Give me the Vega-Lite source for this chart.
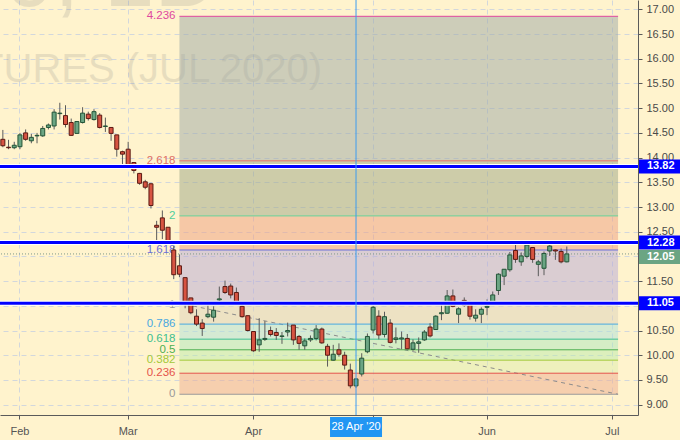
{
  "$schema": "https://vega.github.io/schema/vega-lite/v6.json",
  "width": 638,
  "height": 415,
  "autosize": "none",
  "padding": {"left": 0, "top": 0, "right": 42, "bottom": 25},
  "background": "#fff3cd",
  "config": {"view": {"stroke": null}, "font": "Liberation Sans"},
  "datasets": {
    "candles": [
      {"d":"2020-01-29","o":14.37,"h":14.56,"l":14.21,"c":14.24},
      {"d":"2020-01-30","o":14.21,"h":14.36,"l":14.17,"c":14.20},
      {"d":"2020-01-31","o":14.20,"h":14.32,"l":14.17,"c":14.25},
      {"d":"2020-02-03","o":14.22,"h":14.50,"l":14.17,"c":14.46},
      {"d":"2020-02-04","o":14.50,"h":14.57,"l":14.34,"c":14.37},
      {"d":"2020-02-05","o":14.34,"h":14.48,"l":14.29,"c":14.41},
      {"d":"2020-02-06","o":14.44,"h":14.50,"l":14.29,"c":14.45},
      {"d":"2020-02-07","o":14.44,"h":14.64,"l":14.42,"c":14.59},
      {"d":"2020-02-10","o":14.61,"h":14.69,"l":14.57,"c":14.66},
      {"d":"2020-02-11","o":14.64,"h":14.98,"l":14.57,"c":14.92},
      {"d":"2020-02-12","o":14.89,"h":15.11,"l":14.77,"c":14.90},
      {"d":"2020-02-13","o":14.85,"h":15.06,"l":14.61,"c":14.67},
      {"d":"2020-02-14","o":14.71,"h":14.79,"l":14.44,"c":14.45},
      {"d":"2020-02-18","o":14.49,"h":14.74,"l":14.48,"c":14.73},
      {"d":"2020-02-19","o":14.71,"h":15.02,"l":14.69,"c":14.90},
      {"d":"2020-02-20","o":14.88,"h":14.93,"l":14.75,"c":14.79},
      {"d":"2020-02-21","o":14.77,"h":14.98,"l":14.75,"c":14.93},
      {"d":"2020-02-24","o":14.86,"h":14.90,"l":14.59,"c":14.61},
      {"d":"2020-02-25","o":14.63,"h":14.81,"l":14.52,"c":14.64},
      {"d":"2020-02-26","o":14.61,"h":14.61,"l":14.34,"c":14.49},
      {"d":"2020-02-27","o":14.46,"h":14.46,"l":14.02,"c":14.17},
      {"d":"2020-02-28","o":14.12,"h":14.14,"l":13.85,"c":14.07},
      {"d":"2020-03-02","o":14.17,"h":14.32,"l":13.82,"c":13.83},
      {"d":"2020-03-03","o":13.90,"h":13.90,"l":13.68,"c":13.74},
      {"d":"2020-03-04","o":13.68,"h":13.69,"l":13.45,"c":13.48},
      {"d":"2020-03-05","o":13.51,"h":13.55,"l":13.36,"c":13.40},
      {"d":"2020-03-06","o":13.47,"h":13.49,"l":12.97,"c":13.03},
      {"d":"2020-03-09","o":12.63,"h":12.72,"l":12.33,"c":12.59},
      {"d":"2020-03-10","o":12.78,"h":12.93,"l":12.35,"c":12.53},
      {"d":"2020-03-11","o":12.59,"h":12.59,"l":12.23,"c":12.29},
      {"d":"2020-03-12","o":12.13,"h":12.21,"l":11.54,"c":11.63},
      {"d":"2020-03-13","o":11.81,"h":12.04,"l":11.58,"c":11.64},
      {"d":"2020-03-16","o":11.57,"h":11.57,"l":10.95,"c":11.05},
      {"d":"2020-03-17","o":11.16,"h":11.16,"l":10.83,"c":10.86},
      {"d":"2020-03-18","o":10.79,"h":10.93,"l":10.59,"c":10.63},
      {"d":"2020-03-19","o":10.65,"h":10.73,"l":10.39,"c":10.54},
      {"d":"2020-03-20","o":10.78,"h":11.10,"l":10.75,"c":10.83},
      {"d":"2020-03-23","o":10.77,"h":10.99,"l":10.68,"c":10.91},
      {"d":"2020-03-24","o":11.12,"h":11.39,"l":11.10,"c":11.14},
      {"d":"2020-03-25","o":11.39,"h":11.51,"l":11.24,"c":11.27},
      {"d":"2020-03-26","o":11.40,"h":11.45,"l":11.15,"c":11.22},
      {"d":"2020-03-27","o":11.27,"h":11.37,"l":11.04,"c":11.06},
      {"d":"2020-03-30","o":10.99,"h":11.06,"l":10.76,"c":10.78},
      {"d":"2020-03-31","o":10.80,"h":10.80,"l":10.48,"c":10.50},
      {"d":"2020-04-01","o":10.48,"h":10.48,"l":10.07,"c":10.09},
      {"d":"2020-04-02","o":10.21,"h":10.75,"l":10.07,"c":10.31},
      {"d":"2020-04-03","o":10.32,"h":10.69,"l":10.29,"c":10.34},
      {"d":"2020-04-06","o":10.50,"h":10.58,"l":10.38,"c":10.42},
      {"d":"2020-04-07","o":10.46,"h":10.55,"l":10.31,"c":10.40},
      {"d":"2020-04-08","o":10.38,"h":10.47,"l":10.23,"c":10.39},
      {"d":"2020-04-09","o":10.47,"h":10.66,"l":10.38,"c":10.50},
      {"d":"2020-04-13","o":10.61,"h":10.61,"l":10.21,"c":10.31},
      {"d":"2020-04-14","o":10.38,"h":10.41,"l":10.11,"c":10.24},
      {"d":"2020-04-15","o":10.19,"h":10.34,"l":10.11,"c":10.29},
      {"d":"2020-04-16","o":10.31,"h":10.40,"l":10.27,"c":10.34},
      {"d":"2020-04-17","o":10.34,"h":10.61,"l":10.30,"c":10.53},
      {"d":"2020-04-20","o":10.53,"h":10.56,"l":10.23,"c":10.25},
      {"d":"2020-04-21","o":10.18,"h":10.23,"l":9.77,"c":10.00},
      {"d":"2020-04-22","o":9.90,"h":10.21,"l":9.89,"c":10.02},
      {"d":"2020-04-23","o":10.11,"h":10.24,"l":9.97,"c":10.02},
      {"d":"2020-04-24","o":10.00,"h":10.07,"l":9.71,"c":9.80},
      {"d":"2020-04-27","o":9.70,"h":9.83,"l":9.33,"c":9.38},
      {"d":"2020-04-28","o":9.38,"h":9.53,"l":9.34,"c":9.52},
      {"d":"2020-04-29","o":9.62,"h":10.04,"l":9.57,"c":9.94},
      {"d":"2020-04-30","o":10.07,"h":10.44,"l":10.04,"c":10.38},
      {"d":"2020-05-01","o":10.51,"h":11.00,"l":10.44,"c":10.97},
      {"d":"2020-05-04","o":10.79,"h":10.91,"l":10.32,"c":10.41},
      {"d":"2020-05-05","o":10.42,"h":10.88,"l":10.36,"c":10.78},
      {"d":"2020-05-06","o":10.65,"h":10.73,"l":10.24,"c":10.26},
      {"d":"2020-05-07","o":10.32,"h":10.56,"l":10.24,"c":10.35},
      {"d":"2020-05-08","o":10.33,"h":10.48,"l":10.12,"c":10.35},
      {"d":"2020-05-11","o":10.34,"h":10.43,"l":10.12,"c":10.13},
      {"d":"2020-05-12","o":10.12,"h":10.32,"l":10.09,"c":10.25},
      {"d":"2020-05-13","o":10.24,"h":10.36,"l":10.05,"c":10.27},
      {"d":"2020-05-14","o":10.31,"h":10.51,"l":10.29,"c":10.47},
      {"d":"2020-05-15","o":10.57,"h":10.65,"l":10.36,"c":10.39},
      {"d":"2020-05-18","o":10.52,"h":10.81,"l":10.51,"c":10.79},
      {"d":"2020-05-19","o":10.84,"h":11.03,"l":10.71,"c":10.86},
      {"d":"2020-05-20","o":10.85,"h":11.32,"l":10.84,"c":11.20},
      {"d":"2020-05-21","o":11.20,"h":11.33,"l":10.97,"c":10.99},
      {"d":"2020-05-22","o":10.83,"h":10.97,"l":10.65,"c":10.94},
      {"d":"2020-05-26","o":11.11,"h":11.17,"l":10.98,"c":11.01},
      {"d":"2020-05-27","o":11.02,"h":11.10,"l":10.72,"c":10.79},
      {"d":"2020-05-28","o":10.75,"h":10.93,"l":10.68,"c":10.81},
      {"d":"2020-05-29","o":10.83,"h":10.97,"l":10.65,"c":10.93},
      {"d":"2020-06-01","o":10.97,"h":11.13,"l":10.81,"c":10.99},
      {"d":"2020-06-02","o":11.05,"h":11.29,"l":11.03,"c":11.22},
      {"d":"2020-06-03","o":11.31,"h":11.66,"l":11.22,"c":11.64},
      {"d":"2020-06-04","o":11.60,"h":11.74,"l":11.42,"c":11.74},
      {"d":"2020-06-05","o":11.73,"h":12.09,"l":11.69,"c":12.03},
      {"d":"2020-06-08","o":12.12,"h":12.26,"l":11.87,"c":11.94},
      {"d":"2020-06-09","o":11.89,"h":12.08,"l":11.81,"c":12.01},
      {"d":"2020-06-10","o":12.00,"h":12.26,"l":11.96,"c":12.23},
      {"d":"2020-06-11","o":12.18,"h":12.19,"l":11.87,"c":11.94},
      {"d":"2020-06-12","o":11.84,"h":11.93,"l":11.60,"c":11.89},
      {"d":"2020-06-15","o":11.76,"h":12.10,"l":11.62,"c":12.06},
      {"d":"2020-06-16","o":12.11,"h":12.25,"l":12.01,"c":12.21},
      {"d":"2020-06-17","o":12.13,"h":12.14,"l":11.93,"c":12.11},
      {"d":"2020-06-18","o":12.10,"h":12.16,"l":11.86,"c":11.89},
      {"d":"2020-06-19","o":11.89,"h":12.20,"l":11.88,"c":12.05}
    ],
    "fibLevels": [
      {"lv":"0","p":9.21},{"lv":"0.236","p":9.636},{"lv":"0.382","p":9.90},{"lv":"0.5","p":10.11},
      {"lv":"0.618","p":10.325},{"lv":"0.786","p":10.63},{"lv":"1","p":11.015},{"lv":"1.618","p":12.13},
      {"lv":"2","p":12.82},{"lv":"2.618","p":13.935},{"lv":"4.236","p":16.86}
    ],
    "fibBands": [
      {"lv":"0.236","lo":9.21,"hi":9.636},{"lv":"0.382","lo":9.636,"hi":9.90},{"lv":"0.5","lo":9.90,"hi":10.11},
      {"lv":"0.618","lo":10.11,"hi":10.325},{"lv":"0.786","lo":10.325,"hi":10.63},{"lv":"1","lo":10.63,"hi":11.015},
      {"lv":"1.618","lo":11.015,"hi":12.13},{"lv":"2","lo":12.13,"hi":12.82},{"lv":"2.618","lo":12.82,"hi":13.935},
      {"lv":"4.236","lo":13.935,"hi":16.86}
    ],
    "trend": [{"d":"2020-03-16","p":11.03},{"d":"2020-07-02","p":9.21}],
    "hlines": [{"p":13.82},{"p":12.28},{"p":11.05}],
    "last": [{"p":12.05}],
    "cross": [{"d":"2020-04-28","t":"28 Apr '20"}],
    "wm": [
      {"d":"2020-03-24","p":17.07,"t":"SBN2020, 1D","k":"big"},
      {"d":"2020-04-17","p":15.53,"t":"SUGAR #11 FUTURES (JUL 2020)","k":"small"}
    ]
  },
  "layer": [
    {
      "data": {"name": "wm"},
      "transform": [{"filter": "datum.k == 'big'"}],
      "mark": {"type": "text", "align": "right", "baseline": "alphabetic", "fontSize": 90, "color": "#787878", "opacity": 0.17},
      "encoding": {
        "x": {"field": "d", "type": "ordinal", "title": null,
          "scale": {"type": "band", "paddingInner": 0, "paddingOuter": 0,
            "domain": ["2020-01-29","2020-01-30","2020-01-31",
              "2020-02-03","2020-02-04","2020-02-05","2020-02-06","2020-02-07","2020-02-10","2020-02-11","2020-02-12","2020-02-13","2020-02-14","2020-02-18","2020-02-19","2020-02-20","2020-02-21","2020-02-24","2020-02-25","2020-02-26","2020-02-27","2020-02-28",
              "2020-03-02","2020-03-03","2020-03-04","2020-03-05","2020-03-06","2020-03-09","2020-03-10","2020-03-11","2020-03-12","2020-03-13","2020-03-16","2020-03-17","2020-03-18","2020-03-19","2020-03-20","2020-03-23","2020-03-24","2020-03-25","2020-03-26","2020-03-27","2020-03-30","2020-03-31",
              "2020-04-01","2020-04-02","2020-04-03","2020-04-06","2020-04-07","2020-04-08","2020-04-09","2020-04-13","2020-04-14","2020-04-15","2020-04-16","2020-04-17","2020-04-20","2020-04-21","2020-04-22","2020-04-23","2020-04-24","2020-04-27","2020-04-28","2020-04-29","2020-04-30",
              "2020-05-01","2020-05-04","2020-05-05","2020-05-06","2020-05-07","2020-05-08","2020-05-11","2020-05-12","2020-05-13","2020-05-14","2020-05-15","2020-05-18","2020-05-19","2020-05-20","2020-05-21","2020-05-22","2020-05-26","2020-05-27","2020-05-28","2020-05-29",
              "2020-06-01","2020-06-02","2020-06-03","2020-06-04","2020-06-05","2020-06-08","2020-06-09","2020-06-10","2020-06-11","2020-06-12","2020-06-15","2020-06-16","2020-06-17","2020-06-18","2020-06-19","2020-06-22","2020-06-23","2020-06-24","2020-06-25","2020-06-26","2020-06-29","2020-06-30",
              "2020-07-01","2020-07-02","2020-07-06","2020-07-07","2020-07-08"]},
          "axis": {
            "values": ["2020-02-03","2020-03-02","2020-04-01","2020-05-01","2020-06-01","2020-07-01"],
            "labelExpr": "datum.value == '2020-02-03' ? 'Feb' : datum.value == '2020-03-02' ? 'Mar' : datum.value == '2020-04-01' ? 'Apr' : datum.value == '2020-06-01' ? 'Jun' : datum.value == '2020-07-01' ? 'Jul' : ''",
            "bandPosition": 0.5,
            "grid": true, "gridColor": "#d2d7dc", "gridDash": [5, 4], "gridWidth": 1,
            "domainColor": "#5a5a5a", "tickColor": "#5a5a5a", "tickSize": 4,
            "labelColor": "#555555", "labelFontSize": 11, "labelPadding": 6, "labelAngle": 0,
            "labelFont": "Liberation Sans", "labelOverlap": false
          }
        },
        "y": {"field": "p", "type": "quantitative", "title": null,
          "scale": {"domain": [8.79, 17.19], "nice": false, "zero": false},
          "axis": {
            "orient": "right",
            "values": [9, 9.5, 10, 10.5, 11, 11.5, 12, 12.5, 13, 13.5, 14, 14.5, 15, 15.5, 16, 16.5, 17],
            "tickCount": 17,
            "format": ".2f",
            "grid": true, "gridColor": "#d2d7dc", "gridDash": [5, 4], "gridWidth": 1,
            "domainColor": "#5a5a5a", "tickColor": "#5a5a5a", "tickSize": 4,
            "labelColor": "#4a4a4a", "labelFontSize": 11, "labelPadding": 4,
            "labelFont": "Liberation Sans", "labelOverlap": false, "labelBound": false
          }
        },
        "text": {"field": "t"}
      }
    },
    {
      "data": {"name": "wm"},
      "transform": [{"filter": "datum.k == 'small'"}],
      "mark": {"type": "text", "align": "right", "baseline": "alphabetic", "fontSize": 40, "dx": 6, "color": "#787878", "opacity": 0.17},
      "encoding": {
        "x": {"field": "d", "type": "ordinal", "title": null},
        "y": {"field": "p", "type": "quantitative", "title": null},
        "text": {"field": "t"}
      }
    },
    {
      "data": {"name": "fibBands"},
      "mark": {"type": "rect", "fillOpacity": 0.5},
      "encoding": {
        "x": {"datum": "2020-03-13", "type": "ordinal", "bandPosition": 0.5},
        "x2": {"datum": "2020-07-02", "bandPosition": 0.5},
        "y": {"field": "lo", "type": "quantitative", "title": null},
        "y2": {"field": "hi"},
        "fill": {"field": "lv", "type": "nominal", "legend": null,
          "scale": {"domain": ["0.236","0.382","0.5","0.618","0.786","1","1.618","2","2.618","4.236"],
                    "range": ["#edab90","#ddedae","#b9ebac","#abe7be","#abe1da","#dbd1ba","#b5a7d8","#ed9d80","#9ba586","#9ba7a6"]}}
      }
    },
    {
      "data": {"name": "trend"},
      "mark": {"type": "line", "color": "#8c8c8c", "strokeDash": [4, 4], "strokeWidth": 1},
      "encoding": {
        "x": {"field": "d", "type": "ordinal", "title": null},
        "y": {"field": "p", "type": "quantitative", "title": null}
      }
    },
    {
      "data": {"name": "fibLevels"},
      "mark": {"type": "rule", "strokeWidth": 1},
      "encoding": {
        "x": {"datum": "2020-03-13", "type": "ordinal", "bandPosition": 0.5},
        "x2": {"datum": "2020-07-02", "bandPosition": 0.5},
        "y": {"field": "p", "type": "quantitative", "title": null},
        "stroke": {"field": "lv", "type": "nominal", "legend": null,
          "scale": {"domain": ["0","0.236","0.382","0.5","0.618","0.786","1","1.618","2","2.618","4.236"],
                    "range": ["#9a9a9a","#e5534b","#a3c93a","#4caf50","#3dbf8f","#4aa8e0","#9a9a9a","#6a6fd8","#6ad39a","#e06f66","#e0479e"]}}
      }
    },
    {
      "data": {"name": "fibLevels"},
      "mark": {"type": "text", "align": "right", "baseline": "middle", "dx": -4, "fontSize": 11.5},
      "encoding": {
        "x": {"datum": "2020-03-13", "type": "ordinal", "bandPosition": 0.5},
        "y": {"field": "p", "type": "quantitative", "title": null},
        "text": {"field": "lv"},
        "color": {"field": "lv", "type": "nominal", "legend": null,
          "scale": {"domain": ["0","0.236","0.382","0.5","0.618","0.786","1","1.618","2","2.618","4.236"],
                    "range": ["#9a9a9a","#e5534b","#a3c93a","#4caf50","#3dbf8f","#4aa8e0","#9a9a9a","#6a6fd8","#4fcf9c","#e06f66","#e0479e"]}}
      }
    },
    {
      "data": {"name": "last"},
      "mark": {"type": "rule", "color": "#7f9a88", "strokeDash": [1, 2], "strokeWidth": 1},
      "encoding": {"y": {"field": "p", "type": "quantitative", "title": null}}
    },
    {
      "data": {"name": "candles"},
      "mark": {"type": "rule", "color": "#5a5a5a", "strokeWidth": 1},
      "encoding": {
        "x": {"field": "d", "type": "ordinal", "title": null},
        "y": {"field": "l", "type": "quantitative", "title": null},
        "y2": {"field": "h"}
      }
    },
    {
      "data": {"name": "candles"},
      "mark": {"type": "bar", "width": 4, "strokeWidth": 1},
      "encoding": {
        "x": {"field": "d", "type": "ordinal", "title": null},
        "y": {"field": "o", "type": "quantitative", "title": null},
        "y2": {"field": "c"},
        "fill": {"condition": {"test": "datum.c >= datum.o", "value": "#6ba583"}, "value": "#d75442"},
        "stroke": {"condition": {"test": "datum.c >= datum.o", "value": "#225437"}, "value": "#5b1a13"}
      }
    },
    {
      "data": {"name": "hlines"},
      "mark": {"type": "rule", "color": "#ffffff", "strokeWidth": 5},
      "encoding": {"y": {"field": "p", "type": "quantitative", "title": null}}
    },
    {
      "data": {"name": "hlines"},
      "mark": {"type": "rule", "color": "#0000ff", "strokeWidth": 3},
      "encoding": {"y": {"field": "p", "type": "quantitative", "title": null}}
    },
    {
      "data": {"name": "cross"},
      "mark": {"type": "rule", "color": "#3d9cf0", "strokeWidth": 1},
      "encoding": {"x": {"field": "d", "type": "ordinal", "title": null}}
    },
    {
      "data": {"name": "hlines"},
      "mark": {"type": "rect", "color": "#0000ff", "xOffset": 1, "x2Offset": 42, "yOffset": -7, "y2Offset": 7},
      "encoding": {
        "x": {"datum": "2020-07-08", "type": "ordinal", "bandPosition": 1},
        "x2": {"datum": "2020-07-08", "bandPosition": 1},
        "y": {"field": "p", "type": "quantitative", "title": null},
        "y2": {"field": "p"}
      }
    },
    {
      "data": {"name": "last"},
      "mark": {"type": "rect", "color": "#6ba583", "xOffset": 1, "x2Offset": 42, "yOffset": -4, "y2Offset": 10},
      "encoding": {
        "x": {"datum": "2020-07-08", "type": "ordinal", "bandPosition": 1},
        "x2": {"datum": "2020-07-08", "bandPosition": 1},
        "y": {"field": "p", "type": "quantitative", "title": null},
        "y2": {"field": "p"}
      }
    },
    {
      "data": {"name": "hlines"},
      "mark": {"type": "text", "align": "left", "baseline": "middle", "dx": 9, "fontSize": 11, "fontWeight": "bold", "color": "#ffffff"},
      "encoding": {
        "x": {"datum": "2020-07-08", "type": "ordinal", "bandPosition": 1},
        "y": {"field": "p", "type": "quantitative", "title": null},
        "text": {"field": "p", "format": ".2f"}
      }
    },
    {
      "data": {"name": "last"},
      "mark": {"type": "text", "align": "left", "baseline": "middle", "dx": 9, "dy": 3, "fontSize": 11, "fontWeight": "bold", "color": "#ffffff"},
      "encoding": {
        "x": {"datum": "2020-07-08", "type": "ordinal", "bandPosition": 1},
        "y": {"field": "p", "type": "quantitative", "title": null},
        "text": {"field": "p", "format": ".2f"}
      }
    },
    {
      "data": {"name": "cross"},
      "mark": {"type": "rect", "color": "#2196f3", "xOffset": -26, "x2Offset": 26, "yOffset": 2, "y2Offset": 22},
      "encoding": {
        "x": {"field": "d", "type": "ordinal", "title": null},
        "x2": {"field": "d"},
        "y": {"datum": 8.79, "type": "quantitative", "title": null},
        "y2": {"datum": 8.79}
      }
    },
    {
      "data": {"name": "cross"},
      "mark": {"type": "text", "align": "center", "baseline": "middle", "dy": 12, "fontSize": 11, "color": "#ffffff"},
      "encoding": {
        "x": {"field": "d", "type": "ordinal", "title": null},
        "y": {"datum": 8.79, "type": "quantitative", "title": null},
        "text": {"field": "t"}
      }
    }
  ]
}
